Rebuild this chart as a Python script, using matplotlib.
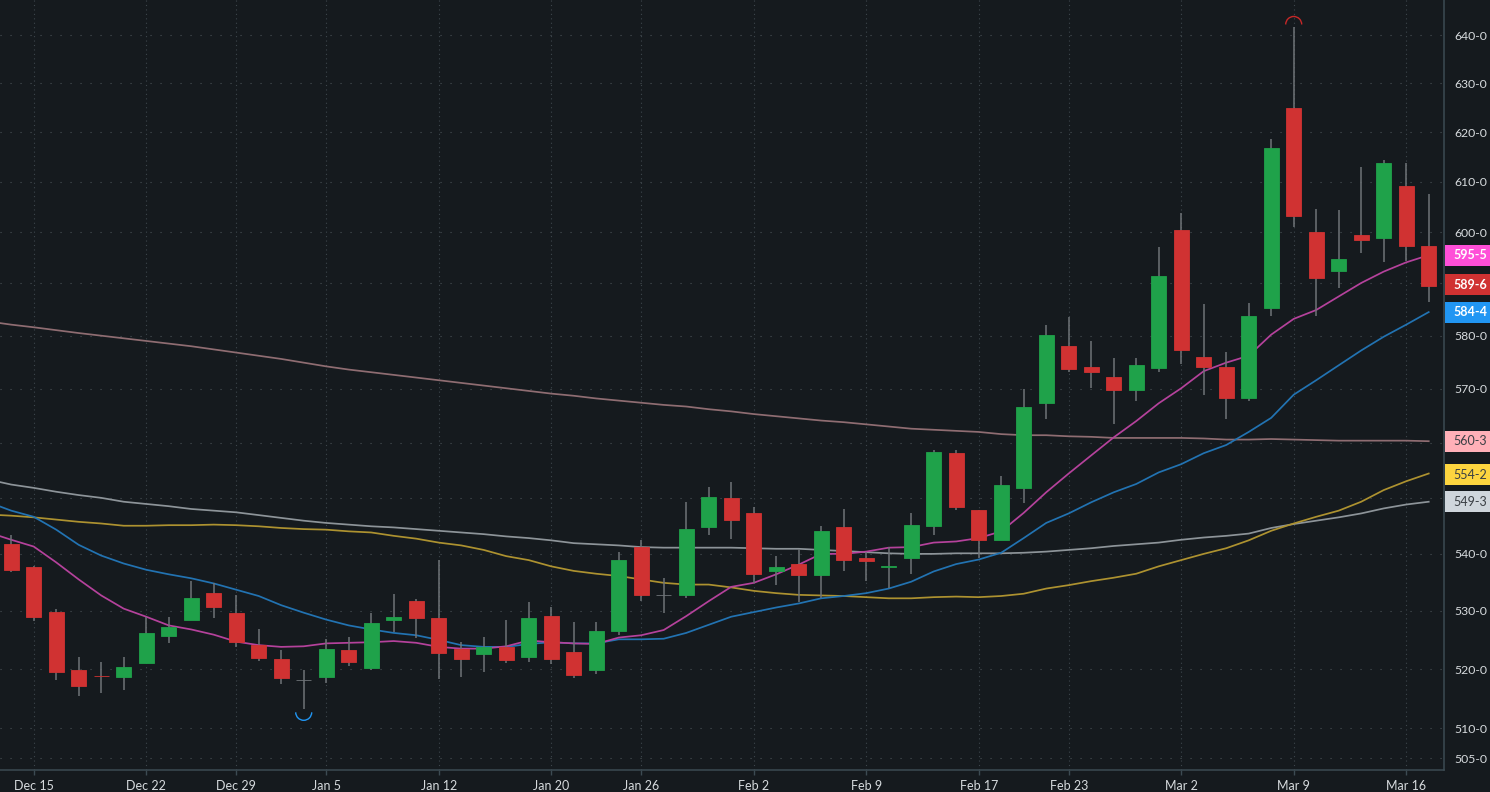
import matplotlib
matplotlib.use("Agg")
import matplotlib.pyplot as plt
from matplotlib.patches import Rectangle, Arc
from matplotlib.transforms import IdentityTransform

plt.rcParams['font.family'] = ['Lato', 'DejaVu Sans']

opens = [541.7,537.7,529.9,519.9,518.9,518.7,521.0,525.7,528.5,533.1,529.7,524.2,521.7,518.2,518.7,523.2,520.2,528.5,531.7,528.7,
         523.5,522.5,523.8,522.0,529.2,522.9,519.9,526.5,541.2,532.7,532.7,544.7,549.9,547.2,537.0,538.2,536.2,544.7,539.2,537.7,
         539.2,545.0,558.2,547.9,542.4,551.8,567.4,578.0,574.0,572.2,569.7,573.9,600.4,576.0,574.0,568.2,585.2,625.0,600.0,592.5,
         599.4,598.9,609.2,597.2]
closes = [537.2,529.0,519.5,517.2,518.75,520.4,526.2,527.2,532.2,530.7,524.7,521.9,518.5,518.2,523.5,521.2,527.9,529.0,528.7,522.7,
          521.7,523.8,521.5,528.7,521.7,519.0,526.5,539.0,532.7,532.7,544.5,550.2,546.0,536.5,537.7,536.2,544.0,539.0,538.7,537.9,
          545.2,558.4,548.4,542.5,552.4,566.7,580.2,573.7,573.1,569.7,574.4,591.5,577.2,574.0,568.2,583.7,616.7,603.2,591.0,594.8,
          598.4,613.8,597.2,589.6]
highs = [543.4,537.8,530.4,522.0,521.2,522.0,529.0,529.0,535.2,534.9,532.7,526.8,523.2,519.9,525.2,525.5,529.7,533.0,532.1,538.9,
         524.7,525.5,528.5,531.5,530.6,528.0,528.0,540.3,542.5,535.7,549.2,552.0,552.8,548.3,539.7,540.9,544.9,548.0,540.4,541.2,
         547.2,558.7,558.7,547.9,554.0,570.0,582.0,583.5,579.0,575.8,575.8,597.0,603.7,586.0,577.0,586.2,618.5,641.6,604.5,604.3,
         613.0,614.3,613.8,607.6]
lows = [536.8,528.3,518.2,515.4,516.0,516.4,521.0,524.4,528.5,528.7,523.7,521.4,517.5,513.2,517.7,520.6,519.9,526.4,525.3,518.4,
        518.7,519.5,521.1,521.2,520.9,518.5,519.2,525.9,531.8,529.7,532.3,543.4,542.7,534.8,534.5,531.6,532.2,536.9,535.2,534.0,
        536.5,543.4,547.9,539.3,542.4,549.1,564.4,573.1,570.1,563.5,567.7,573.1,574.7,568.9,564.4,567.8,583.7,601.0,583.7,589.1,
        595.9,594.1,594.3,586.4]

ma_magenta = [543.8,542.5,541.3,538.5,535.5,532.7,530.4,529.0,527.5,526.8,525.9,524.7,524.1,523.8,523.9,524.4,524.5,524.6,524.8,524.5,
              523.8,523.5,523.5,523.9,524.9,524.6,524.4,524.3,525.4,525.8,526.7,529.1,531.7,534.2,534.9,536.4,538.1,540.0,540.0,540.4,
              541.1,541.2,542.0,542.2,542.8,544.0,547.3,551.0,554.4,557.7,561.0,564.0,567.3,570.1,573.3,574.9,576.2,580.2,583.2,584.9,
              587.5,590.1,592.3,594.1,595.5]
ma_blue = [549.2,547.7,546.6,544.3,541.6,539.7,538.3,537.2,536.4,535.7,534.8,533.7,532.6,531.0,529.7,528.5,527.5,526.8,526.2,525.8,
           525.0,524.1,523.8,523.8,524.3,524.6,524.4,524.4,525.1,525.1,525.2,526.2,527.6,529.0,529.8,530.6,531.3,532.2,532.6,533.1,
           533.9,535.1,536.9,538.2,539.0,540.2,542.8,545.5,547.2,549.2,551.0,552.5,554.6,556.1,558.1,559.6,562.0,564.6,568.9,571.6,
           574.4,577.2,579.8,582.1,584.5]
ma_yellow = [547.0,546.8,546.5,546.1,545.7,545.4,545.0,545.0,545.1,545.1,545.2,545.1,544.9,544.6,544.4,544.3,544.0,543.8,543.2,542.7,
             542.0,541.5,540.7,539.6,538.9,537.8,537.0,536.5,536.1,535.5,534.9,534.6,534.6,534.1,533.5,533.1,532.8,532.7,532.6,532.4,
             532.2,532.2,532.4,532.5,532.4,532.6,533.0,533.9,534.5,535.2,535.8,536.5,537.8,538.9,540.0,541.0,542.4,544.1,545.4,546.6,
             547.7,549.3,551.4,553.0,554.4]
ma_gray = [553.3,552.4,551.8,551.1,550.5,550.0,549.3,548.9,548.5,548.0,547.7,547.4,546.9,546.4,545.9,545.5,545.2,544.9,544.7,544.4,
           544.1,543.8,543.5,543.1,542.8,542.4,541.9,541.7,541.5,541.2,541.1,541.1,541.1,541.1,541.0,540.9,540.9,540.7,540.5,540.3,
           540.1,540.0,540.0,540.1,540.1,540.1,540.2,540.4,540.7,541.0,541.4,541.7,542.0,542.5,542.9,543.2,543.6,544.6,545.3,545.9,
           546.5,547.2,548.1,548.8,549.3]
ma_pink = [582.7,582.1,581.6,581.05,580.5,580.0,579.5,579.0,578.5,578.0,577.4,576.8,576.2,575.6,574.9,574.2,573.6,573.1,572.6,572.1,
           571.6,571.1,570.6,570.1,569.6,569.1,568.7,568.2,567.8,567.4,567.0,566.7,566.2,565.8,565.3,564.9,564.5,564.1,563.8,563.4,
           563.0,562.6,562.4,562.2,562.0,561.6,561.4,561.4,561.2,561.1,560.9,560.9,560.9,560.9,560.8,560.6,560.6,560.7,560.6,560.5,
           560.4,560.4,560.4,560.4,560.3]

date_idx = [1,6,10,14,19,24,28,33,38,43,47,52,57,62]
date_labels = ['Dec 15','Dec 22','Dec 29','Jan 5','Jan 12','Jan 20','Jan 26','Feb 2','Feb 9','Feb 17','Feb 23','Mar 2','Mar 9','Mar 16']
price_ticks = [640,630,620,610,600,590,580,570,560,550,540,530,520,510,505]
price_labels = ['640-0','630-0','620-0','610-0','600-0','','580-0','570-0','','','540-0','530-0','520-0','510-0','505-0']

tag_values = [595.5,589.75,584.5,560.3,554.2,549.3]
tag_texts = ['595-5','589-6','584-4','560-3','554-2','549-3']
tag_colors = ['#ff4fd8','#d03232','#2196f3','#ffb0b8','#fdd53f','#cfd6dc']
tag_text_colors = ['#ffffff','#ffffff','#ffffff','#3a3f44','#3a3f44','#3a3f44']

BG = '#151a1e'
GREEN = '#1fa24a'
RED = '#d03232'
WICK = '#6f7478'
AXIS = '#3c4b53'

W, H = 1490, 792
fig = plt.figure(figsize=(W/100, H/100), dpi=100, facecolor=BG)
ax = fig.add_axes([0, 22/H, 1444/W, 770/H], facecolor=BG)
ax.set_yscale('log')
ax.set_ylim(503.1, 647.4)
ax.set_xlim(-0.498, 63.68)

ma_x = list(range(-1, len(opens)))
for vals, col in [(ma_pink,'#8f6d72'),(ma_gray,'#8d9499'),(ma_yellow,'#ad9230'),(ma_blue,'#2273b2'),(ma_magenta,'#b5429c')]:
    ax.plot(ma_x, vals, color=col, lw=1.25, zorder=2, solid_joinstyle='round')

for i, (o, c, h, l) in enumerate(zip(opens, closes, highs, lows)):
    col = GREEN if c > o else RED
    if c == o:
        col = WICK
    ax.vlines(i, l, h, color=WICK, lw=1.1, zorder=3)
    ax.bar(i, abs(c-o), bottom=min(o, c), width=0.68, color=col, edgecolor=col, lw=0.6, zorder=4)

ax.minorticks_off()
ax.set_yticks(price_ticks)
ax.set_yticklabels(price_labels)
ax.yaxis.set_minor_locator(matplotlib.ticker.NullLocator())
ax.yaxis.tick_right()
ax.tick_params(axis='y', length=0, pad=7.5, labelsize=8.8, labelcolor='#d6dadd')
for lab in ax.get_yticklabels():
    lab.set_verticalalignment('center_baseline')
ax.set_xticks(date_idx)
ax.set_xticklabels(date_labels)
ax.tick_params(axis='x', length=3.6, width=1, color=AXIS, pad=3.5, labelsize=9, labelcolor='#d6dadd')
ax.xaxis.grid(True, linestyle=(0, (1, 3)), lw=0.8, color='#3d464c')
ax.yaxis.grid(True, linestyle=(0, (1, 8)), lw=0.8, color='#4a5257')
ax.set_axisbelow(True)
for s in ['top', 'left']:
    ax.spines[s].set_visible(False)
for s in ['right', 'bottom']:
    ax.spines[s].set_color(AXIS)
    ax.spines[s].set_linewidth(1.1)

# price tags at right edge
for v, t, bgc, tc in zip(tag_values, tag_texts, tag_colors, tag_text_colors):
    ypx = ax.transData.transform((0, v))[1]
    fig.add_artist(Rectangle((1444.5, ypx-10.5), 46, 21, transform=IdentityTransform(), facecolor=bgc, edgecolor='none'))
    fig.text(1470/W, ypx/H, t, color=tc, fontsize=9, ha='center', va='center',
             fontweight='bold' if tc == '#ffffff' else 'normal')

# high and low markers
hi = max(range(len(highs)), key=lambda k: highs[k])
lo = min(range(len(lows)), key=lambda k: lows[k])
hx, hy = ax.transData.transform((hi, highs[hi]))
lx, ly = ax.transData.transform((lo, lows[lo]))
fig.add_artist(Arc((hx, hy+3), 16, 16, theta1=0, theta2=180, transform=IdentityTransform(), color='#c62828', lw=1))
fig.add_artist(Arc((lx, ly-3), 16, 16, theta1=180, theta2=360, transform=IdentityTransform(), color='#2196f3', lw=1))

fig.savefig('out.png', dpi=100, facecolor=BG)
